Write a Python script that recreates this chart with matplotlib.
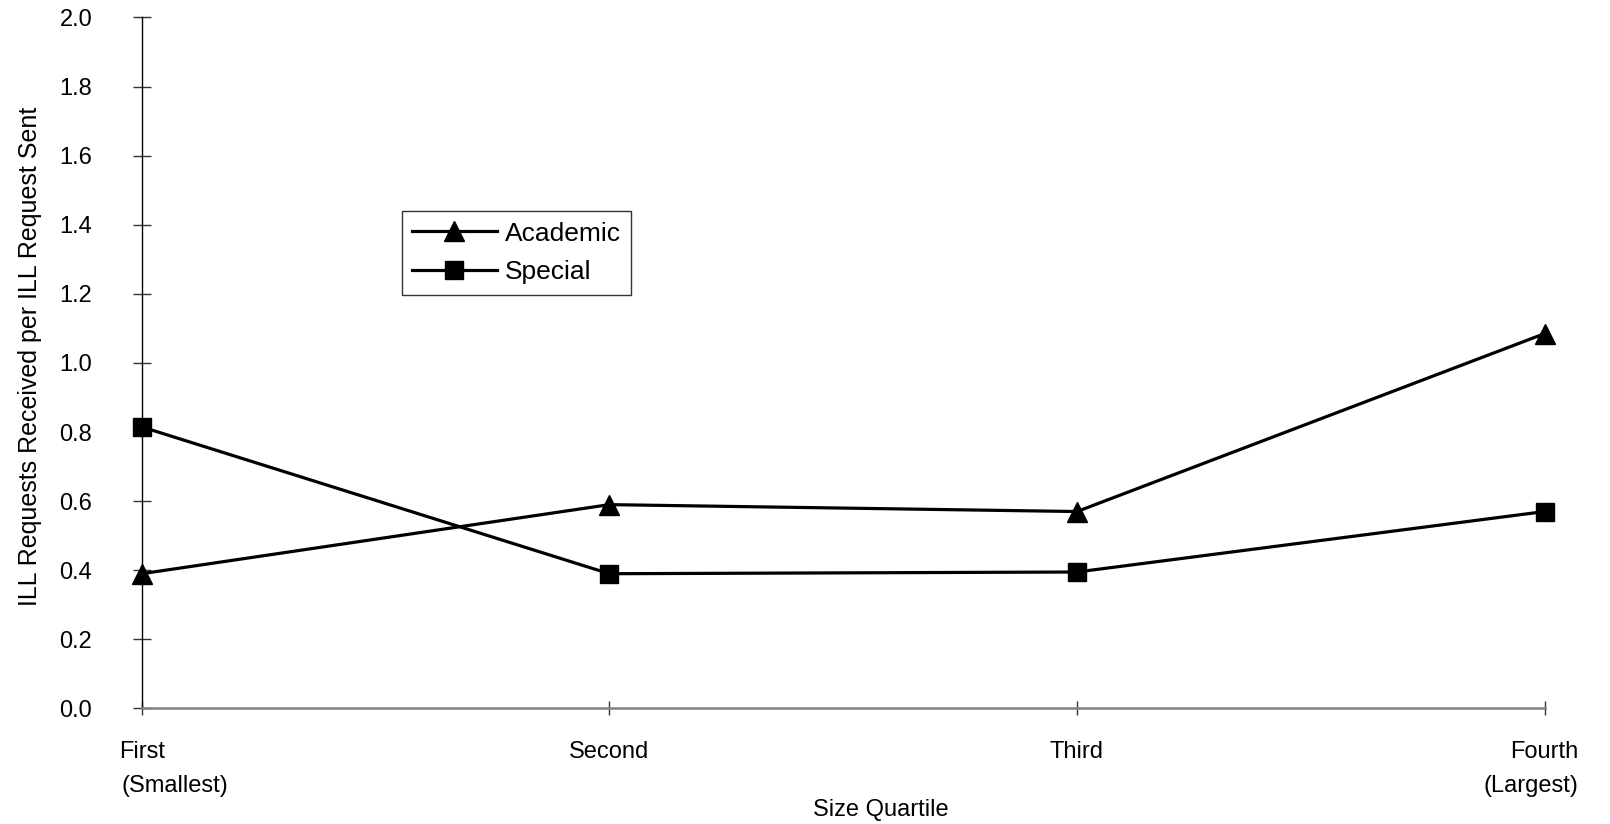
import matplotlib
matplotlib.use("Agg")
import matplotlib.pyplot as plt
from matplotlib import font_manager
from matplotlib.transforms import blended_transform_factory

# ---- data ----
quartiles = ["First", "Second", "Third", "Fourth"]
sublabels = ["(Smallest)", "", "", "(Largest)"]
academic = [0.39, 0.59, 0.57, 1.085]
special = [0.815, 0.39, 0.395, 0.57]
yticks = [0.0, 0.2, 0.4, 0.6, 0.8, 1.0, 1.2, 1.4, 1.6, 1.8, 2.0]
ylabel = "ILL Requests Received per ILL Request Sent"
xlabel = "Size Quartile"

names = {f.name for f in font_manager.fontManager.ttflist}
base = "Liberation Sans" if "Liberation Sans" in names else "DejaVu Sans"
narrow = "Liberation Sans Narrow" if "Liberation Sans Narrow" in names else None
plt.rcParams["font.family"] = [base, "DejaVu Sans"]

fig = plt.figure(figsize=(16.1, 8.24), dpi=100)
ax = fig.add_axes([0.0880, 0.1402, 0.8714, 0.8386])

x = list(range(len(quartiles)))
ax.plot(x, academic, color="black", lw=2.3, marker="^", ms=14.5,
        label="Academic", clip_on=False, zorder=3)
ax.plot(x, special, color="black", lw=2.3, marker="s", ms=12.5,
        label="Special", clip_on=False, zorder=3)

ax.set_xlim(0, len(quartiles) - 1)
ax.set_ylim(0, 2.0)
ax.set_yticks(yticks)
ax.set_yticklabels([f"{v:.1f}" for v in yticks], fontsize=17)
ax.set_xticks(x)
ax.set_xticklabels(quartiles, fontsize=17)

ax.tick_params(axis="y", direction="inout", length=13.3, width=1,
               color="#333333", pad=29)
ax.tick_params(axis="x", direction="inout", length=10.5, width=1,
               color="#333333", pad=18)

for s in ["top", "right"]:
    ax.spines[s].set_visible(False)
ax.spines["left"].set_color("black")
ax.spines["left"].set_linewidth(1)
ax.spines["bottom"].set_color("#808080")
ax.spines["bottom"].set_linewidth(1.8)

# second line of the first / last category labels
trans = blended_transform_factory(ax.transData, ax.transAxes)
offsets = [24, 0, 0, -10]
for xi, sl, off in zip(x, sublabels, offsets):
    if sl:
        ax.annotate(sl, xy=(xi, -0.1129), xycoords=trans,
                    xytext=(off, 0), textcoords="offset points",
                    ha="center", va="center", fontsize=17,
                    annotation_clip=False)

ax.set_xlabel(xlabel, fontsize=17)
ax.xaxis.label.set_va("center")
ax.xaxis.set_label_coords(0.527, -0.1469)

if narrow:
    ax.set_ylabel(ylabel, fontsize=21, family=[narrow, "DejaVu Sans"])
else:
    ax.set_ylabel(ylabel, fontsize=18)
ax.yaxis.label.set_va("center")
ax.yaxis.set_label_coords(-0.0796, 0.509)

leg = ax.legend(loc="upper left", bbox_to_anchor=(0.1853, 0.7200),
                fontsize=19, frameon=True, fancybox=False,
                handlelength=3.2, handletextpad=0.3, borderpad=0.4,
                labelspacing=0.55, borderaxespad=0, markerscale=1.0)
leg.get_frame().set_edgecolor("black")
leg.get_frame().set_linewidth(1)

fig.savefig("out.png", dpi=100)
